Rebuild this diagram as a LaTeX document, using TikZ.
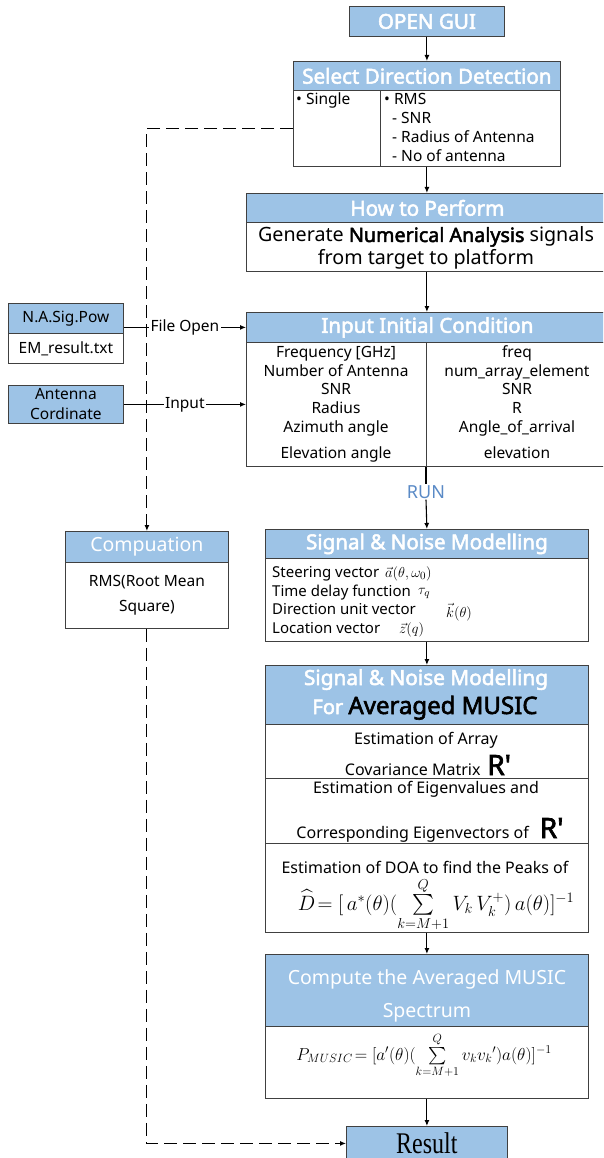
\documentclass[tikz,border=0pt]{standalone}
\usepackage{fontspec}
\usepackage{amsmath}
\setmainfont{Noto Sans}[AutoFakeBold=2.5]
\newfontfamily\timesfont{Liberation Serif}
\usetikzlibrary{arrows.meta}
\definecolor{hblue}{HTML}{9DC3E6}
\definecolor{bordc}{HTML}{404040}
\definecolor{runblue}{HTML}{5A8AC6}
\newcommand{\fsz}[2]{\fontsize{#1}{#2}\selectfont}
\newcommand{\Rprime}{{\fsz{28}{30}\bfseries R\textquotesingle}}
\tikzset{
  box/.style={draw=bordc, line width=0.8pt, anchor=north west, inner sep=0pt},
  hdr/.style={box, fill=hblue, text=white, font=\fsz{20.6}{24}\bfseries},
  hdrlight/.style={box, fill=hblue, text=white, font=\fsz{19.5}{23}},
  body/.style={box, fill=white},
  txt/.style={inner sep=0pt, font=\fsz{15.5}{19}},
  sntxt/.style={inner sep=0pt, font=\fsz{15}{18}},
  snmath/.style={inner sep=0pt, anchor=base west, font=\fsz{15}{17}},
  big/.style={inner sep=0pt, font=\fsz{19.7}{23}},
  amtxt/.style={inner sep=0pt, font=\fsz{16}{19}},
  arr/.style={-{Latex[length=6pt,width=5pt]}, line width=1.1pt},
  plain/.style={line width=1.1pt},
  darr/.style={arr, dash pattern=on 13pt off 6pt},
  lbl/.style={fill=white, inner sep=1.5pt, font=\fsz{15.5}{19}},
}
\begin{document}
\begin{tikzpicture}[x=1pt, y=-1pt]
\useasboundingbox (0,0) rectangle (603,1158);
\clip (0,0) rectangle (603,1158);

% ---- main column ----
\node[hdr, minimum width=155pt, minimum height=30pt] (gui) at (349,6) {OPEN GUI};

\node[hdr, minimum width=267pt, minimum height=29pt] (selhdr) at (293,61) {Select Direction Detection};
\node[body, minimum width=87pt, minimum height=76pt] (selL) at (293,90) {};
\node[body, minimum width=180pt, minimum height=76pt] (selR) at (380,90) {};
\node[txt, anchor=base west] (single) at (296,104.5) {• Single};
\node[txt, anchor=base west] (rms) at (384,104.5) {• RMS};
\node[txt, anchor=base west] (snr) at (392,123.5) {- SNR};
\node[txt, anchor=base west] (rad) at (392,142.5) {- Radius of Antenna};
\node[txt, anchor=base west] (noant) at (392,161.5) {- No of antenna};

\node[hdr, minimum width=362pt, minimum height=29pt] (howhdr) at (246,193) {How to Perform};
\node[body, minimum width=362pt, minimum height=49pt] (howbody) at (246,222) {};
\node[big, anchor=base] (gen) at (426,242) {Generate \textbf{Numerical Analysis} signals};
\node[big, anchor=base] (plat) at (426,265) {from target to platform};

\node[hdr, minimum width=362pt, minimum height=30pt] (inhdr) at (246,312) {Input Initial Condition};
\node[body, minimum width=180pt, minimum height=124pt] (inL) at (246,342) {};
\node[body, minimum width=182pt, minimum height=124pt] (inR) at (426,342) {};
\node[txt, anchor=base] (l1) at (336,357.5) {Frequency [GHz]};
\node[txt, anchor=base] (l2) at (336,376.5) {Number of Antenna};
\node[txt, anchor=base] (l3) at (336,394.5) {SNR};
\node[txt, anchor=base] (l4) at (336,413.5) {Radius};
\node[txt, anchor=base] (l5) at (336,432.5) {Azimuth angle};
\node[txt, anchor=base] (l6) at (336,458.5) {Elevation angle};
\node[txt, anchor=base] (r1) at (517,357.5) {freq};
\node[txt, anchor=base] (r2) at (517,376.5) {num\_array\_element};
\node[txt, anchor=base] (r3) at (517,394.5) {SNR};
\node[txt, anchor=base] (r4) at (517,413.5) {R};
\node[txt, anchor=base] (r5) at (517,432.5) {Angle\_of\_arrival};
\node[txt, anchor=base] (r6) at (517,458.5) {elevation};

\node[inner sep=1pt, text=runblue, font=\fsz{18}{21}] (run) at (426,492) {RUN};

\node[hdr, minimum width=323pt, minimum height=29pt] (snhdr) at (265,529) {Signal \& Noise Modelling};
\node[body, minimum width=323pt, minimum height=83pt] (snbody) at (265,558) {};
\node[sntxt, anchor=base west] (sv) at (272,577.5) {Steering vector};
\node[sntxt, anchor=base west] (td) at (272,596.5) {Time delay function};
\node[sntxt, anchor=base west] (du) at (272,614.5) {Direction unit vector};
\node[sntxt, anchor=base west] (lv) at (272,633.5) {Location vector};
\node[snmath] (svm) at (385,577.5) {$\vec{a}(\theta,\omega_0)$};
\node[snmath] (tdm) at (418,594) {$\tau_q$};
\node[snmath] (dum) at (446,617.5) {$\vec{k}(\theta)$};
\node[snmath] (lvm) at (399,633.5) {$\vec{z}(q)$};

\node[hdr, minimum width=323pt, minimum height=59pt] (amhdr) at (265,665) {};
\node[inner sep=0pt, anchor=base, text=white, font=\fsz{20.8}{24}\bfseries] (amt1) at (426,685) {Signal \& Noise Modelling};
\node[inner sep=0pt, anchor=base, font=\fsz{20}{23}\bfseries] (amt2) at (425,714) {\textcolor{white}{For} {\fsz{24}{26}Averaged MUSIC}};
\node[body, minimum width=323pt, minimum height=54pt] (am1) at (265,724) {};
\node[body, minimum width=323pt, minimum height=65pt] (am2) at (265,778) {};
\node[body, minimum width=323pt, minimum height=89pt] (am3) at (265,843) {};
\node[amtxt, anchor=base] (e1) at (426,744) {Estimation of Array};
\node[amtxt, anchor=base] (e2) at (428,775) {Covariance Matrix \,\Rprime};
\node[amtxt, anchor=base] (e3) at (426,793) {Estimation of Eigenvalues and};
\node[amtxt, anchor=base] (e4) at (430,838) {Corresponding Eigenvectors of \ \,\Rprime};
\node[amtxt, anchor=base] (e5) at (425,873.5) {Estimation of DOA to find the Peaks of};
\node[inner sep=0pt, anchor=base, font=\fsz{19.5}{22}] (dform) at (436,910)
  {$\widehat{D}\!= [\,a^{*}(\theta)(\sum\limits_{k=M+1}^{Q} V_k\,V_k^{+})\,a(\theta)]^{-1}$};

\node[hdrlight, minimum width=323pt, minimum height=72pt] (cphdr) at (265,954) {};
\node[inner sep=0pt, anchor=base, text=white, font=\fsz{19.5}{23}] (cp1) at (427,984) {Compute the Averaged MUSIC};
\node[inner sep=0pt, anchor=base, text=white, font=\fsz{19.5}{23}] (cp2) at (427,1017) {Spectrum};
\node[body, minimum width=323pt, minimum height=72pt] (cpbody) at (265,1026) {};
\node[inner sep=0pt, anchor=base, font=\fsz{17}{19}] (pform) at (424,1060)
  {$P_{MUSIC}\!= [a'(\theta)(\sum\limits_{k=M+1}^{Q} v_k v_k{}')a(\theta)]^{-1}$};

\node[box, fill=hblue, minimum width=161pt, minimum height=34pt] (result) at (346,1126)
  {\timesfont\fsz{24}{26}\scalebox{1}[1.25]{Result}};

% ---- side column ----
\node[box, fill=hblue, minimum width=115pt, minimum height=30pt, font=\fsz{15.5}{19}] (nahdr) at (8,303) {N.A.Sig.Pow};
\node[body, minimum width=115pt, minimum height=30pt, font=\fsz{15.5}{19}] (nabody) at (8,333) {EM\_result.txt};
\node[box, fill=hblue, minimum width=115pt, minimum height=38pt, align=center, font=\fsz{15.5}{20}] (ant) at (8,385) {Antenna\\Cordinate};

\node[hdrlight, minimum width=163pt, minimum height=31pt] (comphdr) at (65,531) {Compuation};
\node[body, minimum width=163pt, minimum height=66pt, align=center, font=\fsz{15.5}{25}] (compbody) at (65,562) {RMS(Root Mean\\Square)};

% ---- connectors ----
\draw[arr] (gui.south) -- (selhdr.north);
\draw[arr] (selR.south -| gui.south) -- (howhdr.north -| gui.south);
\draw[arr] (howbody.south -| gui.south) -- (inhdr.north -| gui.south);
\draw[plain] (inR.south west) -- (run.north);
\draw[arr] (run.south) -- (snhdr.north);
\draw[arr] (snbody.south) -- (amhdr.north);
\draw[arr] (am3.south) -- (cphdr.north);
\draw[arr] (cpbody.south) -- (result.north);
\draw[arr] (nahdr.east |- inhdr.west) -- node[lbl] (fo) {File Open} (inhdr.west);
\draw[arr] (ant.east) -- node[lbl] (inp) {Input} (ant.east -| inL.west);
\draw[darr] (selL.west) -| (comphdr.north);
\draw[darr] (compbody.south) |- (result.west);
\end{tikzpicture}
\end{document}
